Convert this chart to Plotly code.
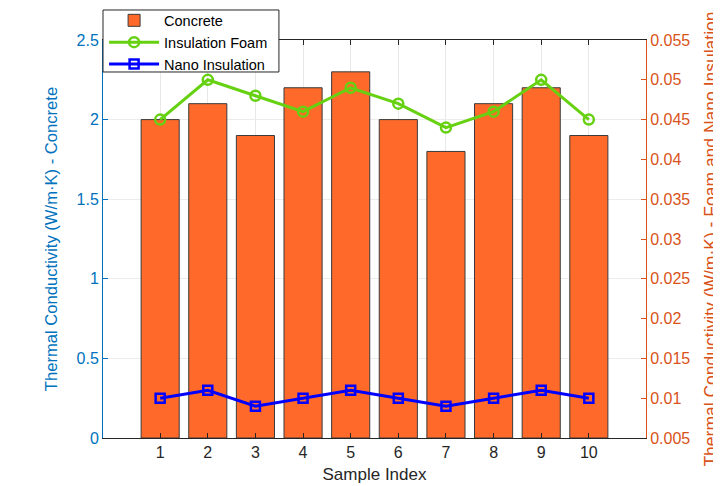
import plotly.graph_objects as go

samples = [1, 2, 3, 4, 5, 6, 7, 8, 9, 10]
concrete = [2.0, 2.1, 1.9, 2.2, 2.3, 2.0, 1.8, 2.1, 2.2, 1.9]
foam = [0.045, 0.050, 0.048, 0.046, 0.049, 0.047, 0.044, 0.046, 0.050, 0.045]
nano = [0.010, 0.011, 0.009, 0.010, 0.011, 0.010, 0.009, 0.010, 0.011, 0.010]
right_ticks = [0.005, 0.01, 0.015, 0.02, 0.025, 0.03, 0.035, 0.04, 0.045, 0.05, 0.055]
right_ticktext = ["0.005", "0.01", "0.015", "0.02", "0.025", "0.03", "0.035", "0.04", "0.045", "0.05", "0.055"]

BLUE = "#0072BD"
ORANGE = "#D95319"
FONT = "Liberation Sans, Arial, sans-serif"

fig = go.Figure()
fig.add_trace(go.Bar(x=samples, y=concrete, name="Concrete", width=0.8,
                     marker=dict(color="#FF6A2A", line=dict(color="#3a3a3a", width=1)),
                     yaxis="y"))
fig.add_trace(go.Scatter(x=samples, y=foam, name="Insulation Foam", mode="lines+markers",
                         line=dict(color="#66D111", width=3),
                         marker=dict(symbol="circle-open", size=10, color="#66D111", line=dict(width=2.5)),
                         yaxis="y2"))
fig.add_trace(go.Scatter(x=samples, y=nano, name="Nano Insulation", mode="lines+markers",
                         line=dict(color="#0000FF", width=3),
                         marker=dict(symbol="square-open", size=9, color="#0000FF", line=dict(width=2.5)),
                         yaxis="y2"))

# legend box (white, framed), drawn above plot content
fig.add_shape(type="rect", xref="paper", yref="paper", x0=0, x1=0.324, y0=0.9196, y1=1.0754,
              fillcolor="white", line=dict(color="#262626", width=1), layer="above")

fig.update_layout(
    width=713, height=478,
    margin=dict(l=95, r=75, t=32, b=48, autoexpand=False),
    paper_bgcolor="white", plot_bgcolor="white",
    font=dict(family=FONT, size=16, color="#262626"),
    showlegend=True,
    legend=dict(x=0.002, y=0.994, xanchor="left", yanchor="middle",
                bgcolor="rgba(0,0,0,0)", borderwidth=0,
                font=dict(size=14.5, color="#000000"), tracegroupgap=0,
                itemwidth=50),
    xaxis=dict(range=[-0.2, 11.2], tickvals=samples, ticks="inside", ticklen=5,
               tickcolor="#262626", showline=True, linecolor="#262626", linewidth=1,
               mirror="ticks", showgrid=True, gridcolor="#e8e8e8", zeroline=False,
               automargin=False,
               title=dict(text="Sample Index", font=dict(size=17, color="#262626"), standoff=7),
               tickfont=dict(size=16, color="#262626")),
    yaxis=dict(range=[0, 2.5], dtick=0.5, ticks="inside", ticklen=5, tickcolor=BLUE,
               showline=True, linecolor=BLUE, linewidth=1, showgrid=True, gridcolor="#ececec",
               zeroline=False, automargin=False, tickfont=dict(size=16, color=BLUE),
               title=dict(text="Thermal Conductivity (W/m·K) - Concrete",
                          font=dict(size=16.6, color=BLUE), standoff=14)),
    yaxis2=dict(range=[0.005, 0.055], tickvals=right_ticks, ticktext=right_ticktext,
                overlaying="y", side="right", ticks="inside", ticklen=5, tickcolor=ORANGE,
                showline=True, linecolor=ORANGE, linewidth=1, showgrid=False, zeroline=False,
                automargin=False, tickfont=dict(size=16, color=ORANGE),
                title=dict(text="Thermal Conductivity (W/m·K) - Foam and Nano Insulation",
                           font=dict(size=17.5, color=ORANGE), standoff=18)),
)

fig.write_html("out.html")
